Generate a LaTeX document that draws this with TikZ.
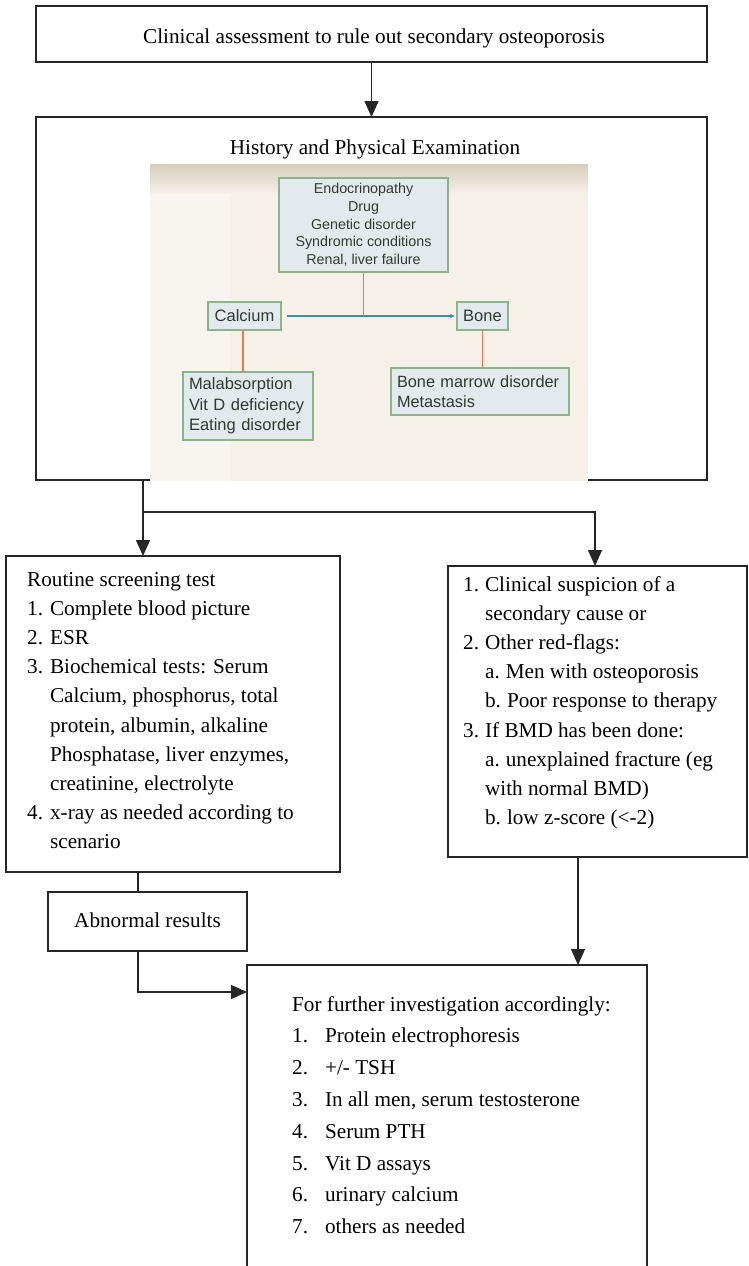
\documentclass[tikz,border=0pt]{standalone}
\usepackage{fontspec}
\setmainfont{Liberation Serif}
\newfontfamily\arialf{Liberation Sans}
\usetikzlibrary{arrows.meta}
\definecolor{boxline}{HTML}{262626}
\definecolor{picbg}{HTML}{F5F1E9}
\definecolor{picband}{HTML}{D6CDBC}
\definecolor{iboxfill}{HTML}{E2EAED}
\definecolor{iboxline}{HTML}{8DB38A}
\definecolor{itext}{HTML}{2F3B2F}
\definecolor{iblue}{HTML}{3D8FA5}
\definecolor{iorange}{HTML}{E27B5E}
\tikzset{
  box/.style={draw=boxline, line width=2.6pt, inner sep=0pt, outer sep=0pt, anchor=north west},
  conn/.style={draw=boxline, line width=1.3pt},
  arr/.style={conn, -{Triangle[length=16pt,width=14pt]}},
  txt/.style={inner sep=0pt, anchor=base west, font=\fontsize{21.2}{29.2}\selectfont},
  ctxt/.style={inner sep=0pt, anchor=base, font=\fontsize{21.2}{29.2}\selectfont},
  ibox/.style={draw=iboxline, fill=iboxfill, line width=1.2pt, inner sep=0pt, outer sep=0pt, anchor=north west, text=itext},
  iline/.style={draw=iorange, line width=1.4pt},
}
\begin{document}
\begin{tikzpicture}[x=1pt,y=-1pt]
\useasboundingbox (0,0) rectangle (749,1266);
\clip (0,0) rectangle (749,1266);
\fill[white] (0,0) rectangle (749,1266);

% main boxes
\node[box, minimum width=671pt, minimum height=56pt] (top) at (36,6) {};
\node[ctxt] (toptxt) at (374,43) {Clinical assessment to rule out secondary osteoporosis};

\node[box, minimum width=671pt, minimum height=363pt] (hist) at (36,117) {};
\node[ctxt] (histtxt) at (375,154) {History and Physical Examination};

% embedded picture
\fill[picbg] (150,164) rectangle (588,481);
\shade[top color=picband, bottom color=picbg] (150,164) rectangle (588,194);
\fill[white!60!picbg, opacity=0.6] (150,194) rectangle (230,481);

\node[ibox, minimum width=169pt, minimum height=94pt, align=center,
  font=\arialf\fontsize{14.3}{17.7}\selectfont] (endo) at (279,178)
  {Endocrinopathy\\Drug\\Genetic disorder\\Syndromic conditions\\Renal, liver failure};
\node[ibox, minimum width=73pt, minimum height=28pt,
  font=\arialf\fontsize{16.5}{20}\selectfont] (calc) at (208,302) {Calcium};
\node[ibox, minimum width=51pt, minimum height=28pt,
  font=\arialf\fontsize{16.5}{20}\selectfont] (bone) at (457,302) {Bone};
\node[ibox, minimum height=68pt, inner xsep=6pt, text width=118pt, align=left,
  font=\arialf\fontsize{16.5}{20.5}\selectfont] (mal) at (183,372)
  {Malabsorption\\Vit D deficiency\\Eating disorder};
\node[ibox, minimum height=47pt, inner xsep=6pt, text width=166pt, align=left,
  font=\arialf\fontsize{16.3}{20}\selectfont] (bmd) at (391,368)
  {\mbox{Bone marrow disorder}\\Metastasis};

\draw[draw=iblue, line width=1.5pt, -{Stealth[length=5pt,width=4pt]}]
  ([xshift=6pt]calc.east) -- ([xshift=-2pt]bone.west);
\draw[iline] (endo.south) -- (endo.south |- calc.east);
\draw[iline] ([xshift=-1.5pt]calc.south) -- ([xshift=-1.5pt]calc.south |- mal.north);
\draw[iline] (bone.south) -- (bone.south |- bmd.north);

% second level boxes
\node[box, minimum width=334pt, minimum height=316pt] (left) at (6,556) {};
\node[txt] (lefttxt) at (27,586) {\begin{tabular}[t]{@{}l@{\hspace{7pt}}l@{}}
\multicolumn{2}{@{}l@{}}{Routine screening test}\\
1. & Complete blood picture\\
2. & ESR\\
3. & Biochemical tests: Serum\\
   & Calcium, phosphorus, total\\
   & protein, albumin, alkaline\\
   & Phosphatase, liver enzymes,\\
   & creatinine, electrolyte\\
4. & x-ray as needed according to\\
   & scenario
\end{tabular}};

\node[box, minimum width=299pt, minimum height=291pt] (right) at (448,566) {};
\node[txt] (righttxt) at (463,591) {\begin{tabular}[t]{@{}l@{\hspace{6pt}}l@{}}
1. & Clinical suspicion of a\\
   & secondary cause or\\
2. & Other red-flags:\\
   & a.\hspace{6pt}Men with osteoporosis\\
   & b.\hspace{6pt}Poor response to therapy\\
3. & If BMD has been done:\\
   & a.\hspace{6pt}unexplained fracture (eg\\
   & with normal BMD)\\
   & b.\hspace{6pt}low z-score (<-2)
\end{tabular}};

\node[box, minimum width=199pt, minimum height=59pt] (abn) at (48,892) {};
\node[ctxt] (abntxt) at (147.5,927) {Abnormal results};

\node[box, minimum width=400pt, minimum height=340pt] (bottom) at (247,965) {};
\node[txt, font=\fontsize{21.2}{31.8}\selectfont] (bottomtxt) at (292,1011) {\begin{tabular}[t]{@{}l@{\hspace{17pt}}l@{}}
\multicolumn{2}{@{}l@{}}{For further investigation accordingly:}\\
1. & Protein electrophoresis\\
2. & +/- TSH\\
3. & In all men, serum testosterone\\
4. & Serum PTH\\
5. & Vit D assays\\
6. & urinary calcium\\
7. & others as needed
\end{tabular}};

% connectors
\draw[arr] (top.south) -- (hist.north);
\draw[arr] ([xshift=107pt]hist.south west) -- ([xshift=137pt]left.north west);
\draw[arr] ([xshift=107pt,yshift=-32pt]hist.south west) -| ([xshift=147pt]right.north west);
\draw[conn] ([xshift=132pt]left.south west) -- ([xshift=90pt]abn.north west);
\draw[arr] ([xshift=90pt]abn.south west) |- ([yshift=-27pt]bottom.north west);
\draw[arr] ([xshift=130pt]right.south west) -- ([xshift=331pt]bottom.north west);
\end{tikzpicture}
\end{document}
